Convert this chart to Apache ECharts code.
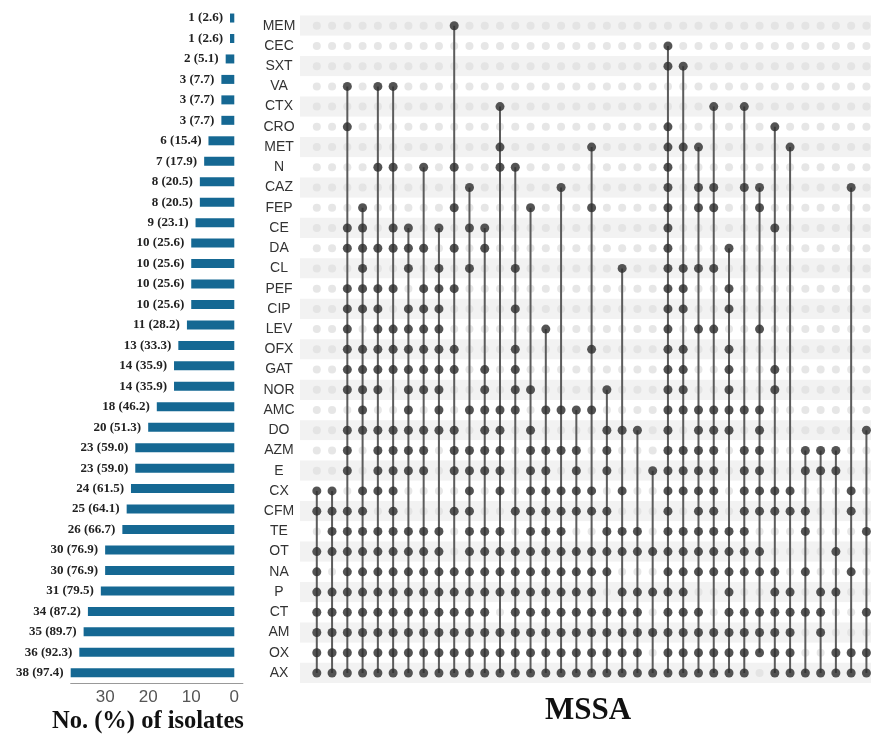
<!DOCTYPE html>
<html>
<head>
<meta charset="utf-8">
<script src="https://cdn.jsdelivr.net/npm/echarts@6/dist/echarts.min.js"></script>
<style>html,body{margin:0;padding:0;background:#fff;}#c{width:871px;height:736px;}</style>
</head>
<body>
<div id="c"></div>
<script>
// ---- data ----
const drugs = ['MEM','CEC','SXT','VA','CTX','CRO','MET','N','CAZ','FEP','CE','DA','CL','PEF','CIP','LEV','OFX','GAT','NOR','AMC','DO','AZM','E','CX','CFM','TE','OT','NA','P','CT','AM','OX','AX'];
const counts = [1,1,2,3,3,3,6,7,8,8,9,10,10,10,10,11,13,14,14,18,20,23,23,24,25,26,30,30,31,34,35,36,38];
const percents = ['2.6','2.6','5.1','7.7','7.7','7.7','15.4','17.9','20.5','20.5','23.1','25.6','25.6','25.6','25.6','28.2','33.3','35.9','35.9','46.2','51.3','59.0','59.0','61.5','64.1','66.7','76.9','76.9','79.5','87.2','89.7','92.3','97.4'];
const axisTicks = [0, 10, 20, 30];
const nColumns = 37;
// filled columns (0-based) for each drug row, same order as drugs
const members = [
  [9],
  [23],
  [23,24],
  [2,4,5],
  [12,26,28],
  [2,23,30],
  [12,18,23,24,25,31],
  [4,5,7,9,12,13,23],
  [10,16,23,25,26,28,29,35],
  [3,9,14,18,23,25,26,29],
  [2,3,5,6,8,10,11,23,30],
  [2,3,4,5,6,7,9,11,23,27],
  [3,6,8,10,13,20,23,24,25,26],
  [2,3,4,5,7,8,9,23,24,27],
  [2,3,4,6,7,8,13,23,24,27],
  [2,4,5,6,7,8,15,23,25,26,29],
  [2,3,4,5,6,7,8,9,13,18,23,24,27],
  [2,3,4,5,6,7,8,9,11,13,23,24,27,30],
  [2,3,4,6,7,8,11,13,14,19,23,24,27,30],
  [3,6,8,10,11,12,13,15,16,17,18,23,24,25,26,27,28,29],
  [2,3,4,5,6,7,8,9,11,12,14,19,20,21,23,25,26,27,29,36],
  [2,4,5,6,7,9,10,11,12,14,15,16,17,19,23,24,25,26,28,29,32,33,34],
  [2,4,5,6,7,9,10,11,12,14,15,17,19,22,23,24,25,26,28,29,32,33,34],
  [0,1,3,4,5,10,12,14,15,16,17,18,20,23,24,25,26,28,29,30,31,35],
  [0,1,2,3,5,9,10,13,14,15,16,17,18,19,23,25,26,28,29,30,31,32,35],
  [1,2,3,4,5,6,7,8,10,11,12,14,15,16,19,20,21,23,24,25,26,27,28,32,36],
  [0,1,2,3,4,5,6,7,8,10,11,12,13,14,15,16,17,18,19,20,21,22,23,24,25,26,27,28,29,34],
  [0,2,3,4,5,6,7,8,9,10,11,12,13,14,15,16,17,18,19,23,24,25,26,27,28,29,30,32,35],
  [0,1,2,3,4,5,6,7,8,9,10,11,12,13,14,15,16,17,18,20,21,22,23,24,27,30,31,33,34],
  [0,1,2,3,4,5,6,7,8,9,10,11,13,14,15,16,17,18,19,20,21,23,24,25,27,28,29,30,31,32,33,36],
  [0,1,2,3,4,5,6,7,8,9,10,11,12,13,14,15,16,17,18,19,20,21,22,23,24,25,26,27,28,29,30,31,33],
  [0,1,2,3,4,5,6,7,8,9,10,11,12,13,14,15,16,17,18,19,20,21,23,24,25,26,27,28,29,30,31,34,35,36],
  [0,1,2,3,4,5,6,7,8,9,10,11,12,13,14,15,16,17,18,19,20,21,22,23,24,25,26,27,28,30,31,32,33,34,35,36]
];

// ---- derived series data ----
const emptyDots = [];
for (let r = 0; r < drugs.length; r++) for (let c = 0; c < nColumns; c++) emptyDots.push([c, r]);
const filledDots = [];
members.forEach((cols, r) => cols.forEach(c => filledDots.push([c, r])));
const segments = [];
for (let c = 0; c < nColumns; c++) {
  const rows = [];
  members.forEach((cols, r) => { if (cols.includes(c)) rows.push(r); });
  if (rows.length > 1) segments.push([c, Math.min(...rows), Math.max(...rows)]);
}

const chart = echarts.init(document.getElementById('c'), null, {renderer: 'canvas'});
chart.setOption({
  animation: false,
  backgroundColor: '#ffffff',
  grid: [
    {left: 70.7, right: 628.1, top: 7.8, height: 675.2},
    {left: 300, right: 0, top: 15.6, height: 667.5}
  ],
  xAxis: [
    {
      gridIndex: 0, type: 'value', inverse: true, min: -2, max: 38,
      splitLine: {show: false},
      axisTick: {show: false},
      axisLine: {show: true, lineStyle: {color: '#999', width: 1}},
      axisLabel: {customValues: axisTicks, color: '#555', fontSize: 17, fontFamily: 'Liberation Sans, Arial, sans-serif', margin: 6}
    },
    {gridIndex: 1, type: 'value', min: -1.1, max: 36.3, show: false}
  ],
  yAxis: [
    {gridIndex: 0, type: 'category', data: drugs, inverse: true, show: false},
    {
      gridIndex: 1, type: 'category', data: drugs, inverse: true,
      axisLine: {show: false}, axisTick: {show: false},
      splitArea: {show: true, areaStyle: {color: ['#f2f2f2', '#ffffff']}},
      axisLabel: {color: '#333', fontSize: 14, fontFamily: 'Liberation Sans, Arial, sans-serif', align: 'center', margin: 21}
    }
  ],
  series: [
    {
      type: 'bar', xAxisIndex: 0, yAxisIndex: 0, data: counts, barWidth: 9,
      itemStyle: {color: '#156893'},
      label: {
        show: true, position: 'left', distance: 7,
        formatter: p => counts[p.dataIndex] + ' (' + percents[p.dataIndex] + ')',
        color: '#222', fontSize: 13, fontWeight: 'bold', fontFamily: 'Liberation Serif, Times New Roman, serif'
      }
    },
    {
      type: 'scatter', xAxisIndex: 1, yAxisIndex: 1, data: emptyDots, symbolSize: 8,
      itemStyle: {color: '#e0e0e0'}, z: 1, silent: true
    },
    {
      type: 'custom', xAxisIndex: 1, yAxisIndex: 1, data: segments, z: 2,
      encode: {x: 0, y: [1, 2]},
      renderItem: (params, api) => {
        const p0 = api.coord([api.value(0), api.value(1)]);
        const p1 = api.coord([api.value(0), api.value(2)]);
        return {type: 'line', shape: {x1: p0[0], y1: p0[1], x2: p1[0], y2: p1[1]}, style: {stroke: '#5c5c5c', lineWidth: 2}};
      }
    },
    {
      type: 'scatter', xAxisIndex: 1, yAxisIndex: 1, data: filledDots, symbolSize: 9,
      itemStyle: {color: '#2e2e2e'}, z: 3
    }
  ],
  graphic: [
    {type: 'text', left: 52, top: 709, style: {text: 'No. (%) of isolates', fill: '#111', font: 'bold 24.5px "Liberation Serif", "Times New Roman", serif'}},
    {type: 'text', left: 545, top: 695, style: {text: 'MSSA', fill: '#111', font: 'bold 31px "Liberation Serif", "Times New Roman", serif'}}
  ]
});
</script>
</body>
</html>
